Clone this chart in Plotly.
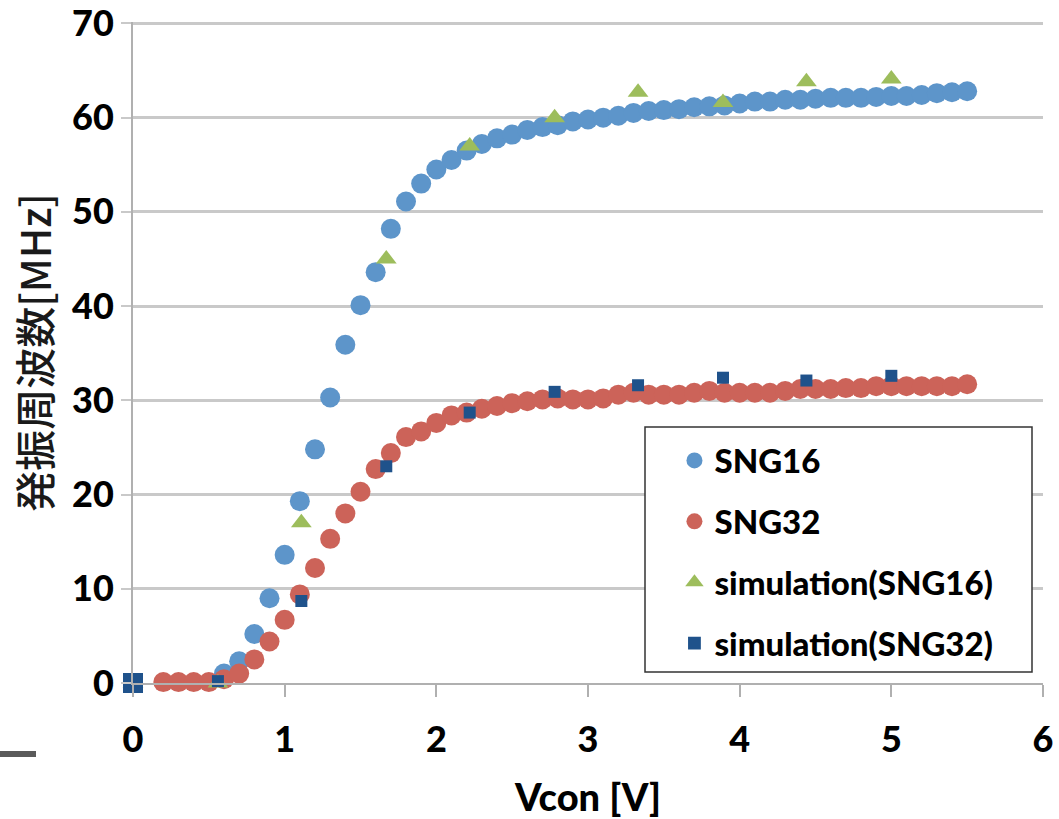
import plotly.graph_objects as go

# Measured oscillation frequency vs control voltage
v_sng16 = [0.0, 0.6, 0.7, 0.8, 0.9, 1.0, 1.1, 1.2, 1.3, 1.4, 1.5, 1.6, 1.7, 1.8, 1.9,
           2.0, 2.1, 2.2, 2.3, 2.4, 2.5, 2.6, 2.7, 2.8, 2.9, 3.0, 3.1, 3.2, 3.3, 3.4,
           3.5, 3.6, 3.7, 3.8, 3.9, 4.0, 4.1, 4.2, 4.3, 4.4, 4.5, 4.6, 4.7, 4.8, 4.9,
           5.0, 5.1, 5.2, 5.3, 5.4, 5.5]
f_sng16 = [0.0, 1.0, 2.3, 5.2, 9.0, 13.6, 19.3, 24.8, 30.3, 35.9, 40.1, 43.6, 48.2, 51.1, 53.0,
           54.5, 55.5, 56.5, 57.2, 57.8, 58.2, 58.7, 59.0, 59.2, 59.6, 59.8, 60.0, 60.2, 60.5, 60.7,
           60.8, 60.9, 61.1, 61.2, 61.3, 61.5, 61.7, 61.7, 61.9, 61.9, 62.0, 62.1, 62.1, 62.1, 62.2,
           62.3, 62.3, 62.4, 62.6, 62.7, 62.8]

v_sng32 = [0.0, 0.2, 0.3, 0.4, 0.5, 0.6, 0.7, 0.8, 0.9, 1.0, 1.1, 1.2, 1.3, 1.4, 1.5,
           1.6, 1.7, 1.8, 1.9, 2.0, 2.1, 2.2, 2.3, 2.4, 2.5, 2.6, 2.7, 2.8, 2.9, 3.0,
           3.1, 3.2, 3.3, 3.4, 3.5, 3.6, 3.7, 3.8, 3.9, 4.0, 4.1, 4.2, 4.3, 4.4, 4.5,
           4.6, 4.7, 4.8, 4.9, 5.0, 5.1, 5.2, 5.3, 5.4, 5.5]
f_sng32 = [0.0, 0.1, 0.1, 0.1, 0.1, 0.4, 1.0, 2.5, 4.4, 6.7, 9.4, 12.2, 15.3, 18.0, 20.3,
           22.7, 24.4, 26.1, 26.7, 27.6, 28.4, 28.7, 29.1, 29.4, 29.7, 29.9, 30.1, 30.2, 30.1, 30.1,
           30.2, 30.6, 30.8, 30.6, 30.6, 30.6, 30.8, 31.0, 30.8, 30.8, 30.8, 30.8, 31.0, 31.2, 31.2,
           31.2, 31.3, 31.3, 31.5, 31.5, 31.5, 31.5, 31.5, 31.5, 31.7]

# Simulated points
v_sim = [0.0, 0.56, 1.11, 1.67, 2.22, 2.78, 3.33, 3.89, 4.44, 5.0]
f_sim16 = [0.0, 0.0, 17.0, 45.0, 57.0, 60.0, 62.7, 61.6, 63.8, 64.1]
f_sim32 = [0.0, 0.2, 8.7, 23.0, 28.7, 30.9, 31.6, 32.4, 32.1, 32.6]

x_ticks = [0, 1, 2, 3, 4, 5, 6]
y_ticks = [0, 10, 20, 30, 40, 50, 60, 70]

BLUE = "#5d95ca"
RED = "#cc6359"
GREEN = "#9dbd5c"
NAVY = "#1f528b"
GRID = "#c9c9c9"
AXIS = "#b0b0b0"

HEAVY = "Lato Black, Lato"
NO_EDGE = dict(width=0)

fig = go.Figure()

fig.add_trace(go.Scatter(
    x=v_sng16, y=f_sng16, mode="markers", name="SNG16", legendgroup="a",
    marker=dict(symbol="circle", size=20, color=BLUE, opacity=1, line=NO_EDGE),
    cliponaxis=False))
fig.add_trace(go.Scatter(
    x=v_sng32, y=f_sng32, mode="markers", name="SNG32", legendgroup="b",
    marker=dict(symbol="circle", size=20, color=RED, opacity=1, line=NO_EDGE),
    cliponaxis=False))
fig.add_trace(go.Scatter(
    x=v_sim, y=f_sim16, mode="markers", name="simulation(SNG16)", legendgroup="c",
    marker=dict(symbol="triangle-up", size=18, color=GREEN, opacity=1, line=NO_EDGE),
    cliponaxis=False))
sq_sizes = [20] + [12] * (len(v_sim) - 1)
fig.add_trace(go.Scatter(
    x=v_sim, y=f_sim32, mode="markers", name="simulation(SNG32)", legendgroup="d",
    marker=dict(symbol="square", size=sq_sizes, color=NAVY, opacity=1, line=NO_EDGE),
    cliponaxis=False))

TICK_FONT = dict(family=HEAVY, size=36, color="#000000", weight=900)

fig.update_layout(
    width=1059, height=819,
    margin=dict(l=133, r=16, t=22, b=136),
    paper_bgcolor="white", plot_bgcolor="white",
    showlegend=True,
    legend=dict(
        x=0.595, y=0.379, xanchor="left", yanchor="top",
        bgcolor="rgba(0,0,0,0)", borderwidth=0,
        font=dict(family=HEAVY, size=33, color="#000000", weight=900),
        tracegroupgap=15, itemsizing="trace",
    ),
    xaxis=dict(
        range=[0, 6], tickvals=x_ticks, ticktext=[str(t) for t in x_ticks],
        showgrid=False, zeroline=False,
        showline=True, linecolor=AXIS, linewidth=2,
        ticks="outside", ticklen=12, tickwidth=2, tickcolor=AXIS,
        tickfont=TICK_FONT, ticklabelstandoff=12, ticklabeloverflow="allow",
        title=dict(text="Vcon [V]", font=dict(family=HEAVY, size=38, color="#000000", weight=900),
                   standoff=30),
        automargin=False,
    ),
    yaxis=dict(
        range=[0, 70.15], tickvals=y_ticks, ticktext=[str(t) for t in y_ticks],
        showgrid=True, gridcolor=GRID, gridwidth=2.5, zeroline=False,
        showline=True, linecolor=AXIS, linewidth=2,
        ticks="outside", ticklen=10, tickwidth=2, tickcolor=GRID,
        tickfont=TICK_FONT, ticklabelstandoff=0, ticklabeloverflow="allow",
        title=dict(text="発振周波数[MHz]",
                   font=dict(family="Noto Sans CJK JP", size=41, color="#1a1a1a", weight=500),
                   standoff=8),
        automargin=False,
    ),
    shapes=[
        # legend frame
        dict(type="rect", xref="paper", yref="paper",
             x0=(645 - 133) / 910, x1=(1032 - 133) / 910,
             y0=(683 - 672) / 661, y1=(683 - 427) / 661,
             line=dict(color="#333333", width=1.5), fillcolor="white", layer="above"),
        # short dark bar at lower left
        dict(type="line", xref="paper", yref="paper",
             x0=-133 / 910, x1=(36 - 133) / 910,
             y0=(683 - 754) / 661, y1=(683 - 754) / 661,
             line=dict(color="#5a5a5a", width=6)),
    ],
)

fig.write_html("out.html")
